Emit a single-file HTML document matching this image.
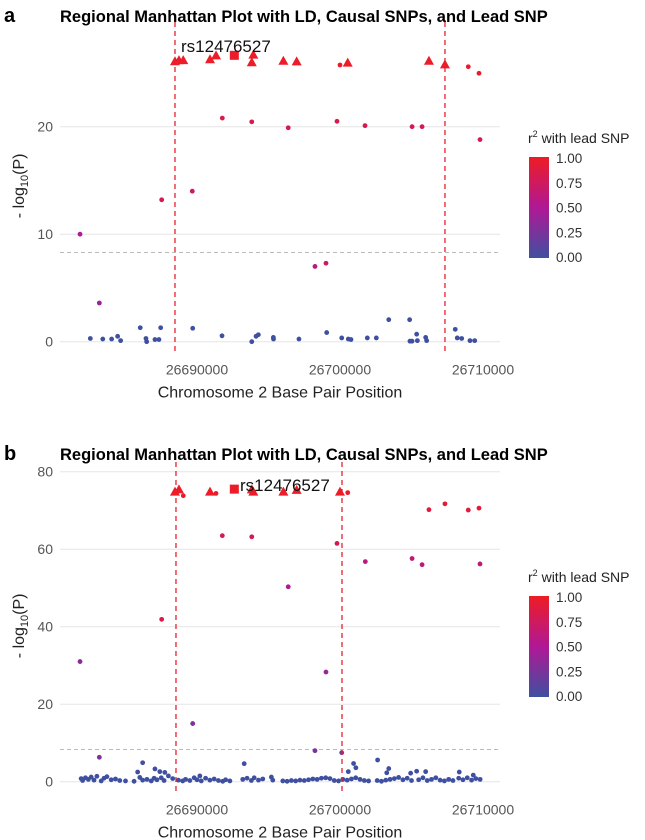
<!DOCTYPE html>
<html><head><meta charset="utf-8">
<style>
body{margin:0;background:#fff;font-family:"Liberation Sans",sans-serif;}
svg{display:block}
</style></head>
<body>
<svg id="fig" width="645" height="840" viewBox="0 0 645 840" xmlns="http://www.w3.org/2000/svg"></svg>
<script>
// ---------- Panel A data (position in kb, -log10 P, r2) ----------
const aCausalPos=[26688.46,26688.74,26689.04,26690.91,26691.33,26693.83,26693.94,26696.04,26696.97,26700.54,26706.22,26707.34];
const aCausalVal=[26.09,26.19,26.19,26.27,26.64,26.0,26.7,26.14,26.08,25.96,26.14,25.80];
const aLeadPos=[26692.61];
const aLeadVal=[26.64];
const aPos=[26700.0,26708.97,26709.72,26691.77,26693.83,26696.38,26699.79,26701.75,26705.04,26705.74,26709.79,26687.53,26689.67,26681.82,26698.25,26699.02,26683.17,
26682.54,26683.41,26684.03,26684.45,26684.66,26686.03,26686.43,26686.48,26687.06,26687.34,26687.46,26689.70,26691.75,26693.83,26694.13,26694.29,26695.34,26695.35,26697.13,26699.07,26700.12,26700.58,26700.77,26701.91,26702.54,26703.41,26704.87,26704.89,26705.04,26705.36,26705.41,26705.99,26706.06,26708.06,26708.20,26708.51,26709.09,26709.42];
const aVal=[25.74,25.58,24.97,20.8,20.45,19.9,20.5,20.1,20.0,20.0,18.8,13.2,14.0,10.0,7.0,7.3,3.6,
0.3,0.25,0.25,0.5,0.1,1.3,0.3,0.0,0.2,0.2,1.3,1.25,0.55,0.0,0.5,0.65,0.4,0.25,0.25,0.85,0.35,0.25,0.2,0.35,0.35,2.05,2.05,0.05,0.05,0.7,0.1,0.4,0.1,1.15,0.35,0.3,0.1,0.1];
const aR2=[0.98,0.95,0.95,0.82,0.82,0.8,0.82,0.8,0.8,0.8,0.8,0.78,0.7,0.5,0.6,0.72,0.4,
0,0,0,0,0,0,0,0,0,0,0,0,0,0,0,0,0,0,0,0,0,0,0,0,0,0,0,0,0,0,0,0,0,0,0,0,0,0];
const aVlines=[26688.46,26707.34];

// ---------- Panel B data ----------
const bCausalPos=[26688.46,26688.74,26690.91,26693.83,26693.94,26696.04,26696.97,26700.0];
const bCausalVal=[74.85,75.45,74.85,75.45,74.85,74.85,75.3,74.85];
const bLeadPos=[26692.61];
const bLeadVal=[75.5];
const bPos=[26689.04,26691.33,26700.54,26706.22,26707.34,26708.97,26709.72,
26691.77,26693.83,26699.79,26701.77,26705.04,26705.74,26709.79,26696.38,26687.53,26681.82,26699.02,26689.70,26698.25,26700.12,26683.17,
26693.30,26700.95,26701.11,26702.63,26686.20,26687.06,26685.85,26687.40,26687.75,26700.58,26703.41,26703.27,26705.36,26705.99,26708.34,26709.32,26690.20,26704.94,
26681.9,26682.0,26682.2,26682.4,26682.6,26682.8,26683.0,26683.3,26683.5,26683.7,26684.0,26684.3,26684.6,26685.0,26685.6,26686.0,26686.2,26686.5,26686.8,26687.0,26687.2,26687.5,26687.7,26688.0,26688.3,26688.7,26689.0,26689.2,26689.5,26689.8,26690.0,26690.3,26690.6,26690.9,26691.2,26691.5,26691.8,26692.0,26692.3,26693.2,26693.5,26693.8,26694.0,26694.3,26694.6,26695.2,26695.3,26696.0,26696.3,26696.6,26696.9,26697.2,26697.5,26697.8,26698.1,26698.4,26698.7,26699.0,26699.3,26699.6,26699.9,26700.2,26700.5,26700.8,26701.1,26701.4,26701.7,26702.0,26702.6,26702.9,26703.2,26703.5,26703.8,26704.1,26704.4,26704.7,26705.0,26705.5,26705.8,26706.1,26706.4,26706.7,26707.0,26707.3,26707.6,26707.9,26708.3,26708.6,26708.9,26709.2,26709.5,26709.8];
const bVal=[73.8,74.4,74.6,70.2,71.7,70.1,70.6,
63.5,63.2,61.5,56.8,57.6,56.0,56.2,50.3,41.9,31.0,28.3,15.0,8.0,7.5,6.3,
4.65,4.7,3.6,5.6,4.9,3.3,2.5,2.6,2.4,2.6,3.4,2.3,2.7,2.6,2.5,1.7,1.5,2.2,
0.8,0.3,1.0,0.6,1.2,0.4,1.4,0.2,0.9,1.3,0.5,0.7,0.3,0.2,0.1,1.1,0.4,0.6,0.2,0.9,0.5,1.0,0.3,1.5,0.8,0.4,0.2,0.6,0.3,1.0,0.5,0.2,0.9,0.4,0.7,0.3,0.1,0.5,0.2,0.6,0.9,0.3,1.0,0.4,0.7,1.2,0.4,0.2,0.1,0.3,0.2,0.4,0.3,0.5,0.7,0.6,0.9,1.0,0.8,0.3,0.2,0.6,0.4,0.7,1.0,0.6,0.3,0.2,0.3,0.1,0.4,0.6,0.8,1.1,0.5,0.9,0.3,0.5,1.0,0.3,0.6,1.0,0.4,0.2,0.6,0.3,0.9,0.5,1.0,0.4,0.8,0.6];
const bR2=[0.97,0.97,0.97,0.9,0.92,0.9,0.92,
0.8,0.78,0.8,0.6,0.65,0.6,0.6,0.5,0.85,0.35,0.4,0.3,0.25,0.2,0.3];
const bVlines=[26688.53,26700.14];

const yTicksA=[0,10,20];
const yTicksB=[0,20,40,60,80];
const xTicks=[26690000,26700000,26710000];
const legendTicks=["1.00","0.75","0.50","0.25","0.00"];

const NS="http://www.w3.org/2000/svg";
const svg=document.getElementById('fig');
function mk(tag,attrs,parent){const e=document.createElementNS(NS,tag);for(const k in attrs)e.setAttribute(k,attrs[k]);(parent||svg).appendChild(e);return e;}
function lerp(a,b,t){return a+(b-a)*t;}
function r2col(r){
  const c0=[63,80,160],c1=[176,24,150],c2=[237,28,36];
  let a,b,t; if(r<0.5){a=c0;b=c1;t=r/0.5;}else{a=c1;b=c2;t=(r-0.5)/0.5;}
  return `rgb(${Math.round(lerp(a[0],b[0],t))},${Math.round(lerp(a[1],b[1],t))},${Math.round(lerp(a[2],b[2],t))})`;
}

function panel(o){
  const xS=kb=>197+(kb-26690)*14.3;
  const yS=v=>o.y0-v*o.k;
  const g=mk('g',{});
  
  
  let t=mk('text',{x:4,y:o.titleY,'font-size':20,'font-weight':'bold',fill:'#000'},g);t.textContent=o.letter;
  
  t=mk('text',{x:60,y:o.titleY,'font-size':16.5,'font-weight':'bold',fill:'#000'},g);
  t.textContent='Regional Manhattan Plot with LD, Causal SNPs, and Lead SNP';
  
  o.yTicks.forEach(v=>{
    const l=mk('line',{x1:60,x2:500,y1:yS(v),y2:yS(v),stroke:'#e6e6e6','stroke-width':1},g);
    
    const tx=mk('text',{x:53,y:yS(v)+5,'font-size':14,fill:'#555','text-anchor':'end'},g);tx.textContent=v;
    
  });
  const th=mk('line',{x1:60,x2:500,y1:yS(8.3),y2:yS(8.3),stroke:'#bbb','stroke-width':1,'stroke-dasharray':'4,3'},g);
  
  xTicks.forEach(v=>{
    const tx=mk('text',{x:xS(v/1000),y:o.y0+33,'font-size':14,fill:'#555','text-anchor':'middle'},g);tx.textContent=v;
    
  });
  t=mk('text',{x:280,y:o.y0+56,'font-size':16,fill:'#222','text-anchor':'middle'},g);t.textContent='Chromosome 2 Base Pair Position';
  
  const cy=(o.y0+o.topY)/2;
  t=mk('text',{transform:`translate(24,${cy}) rotate(-90)`,'font-size':16,fill:'#222','text-anchor':'middle'},g);
  t.innerHTML='- log<tspan font-size="11" dy="4">10</tspan><tspan dy="-4">(P)</tspan>';
  
  o.pos.forEach((p,i)=>{
    const r=i<o.r2.length?o.r2[i]:0;
    const c=mk('circle',{cx:xS(p),cy:yS(o.val[i]),r:2.4,fill:r2col(r)},g);
    
  });
  o.vlines.forEach(v=>{
    const l=mk('line',{x1:xS(v),x2:xS(v),y1:o.topY-8,y2:o.y0+10,stroke:'#e8202e','stroke-width':1.3,'stroke-dasharray':'5,4'},g);
    
  });
  o.cPos.forEach((p,i)=>{
    const x=xS(p),y=yS(o.cVal[i]);
    const tr=mk('polygon',{points:`${x},${y-5} ${x-5},${y+4} ${x+5},${y+4}`,fill:'#ec1c28'},g);
    
  });
  o.lPos.forEach((p,i)=>{
    const x=xS(p),y=yS(o.lVal[i]);
    const sq=mk('rect',{x:x-4.5,y:y-4.5,width:9,height:9,fill:'#ec1c28'},g);
    
  });
  t=mk('text',{x:o.labX,y:o.labY,'font-size':17,fill:'#111'},g);t.textContent='rs12476527';
  
  const lt=mk('text',{x:528,y:o.legY,'font-size':14,fill:'#222'},g);
  lt.innerHTML='r<tspan font-size="9" dy="-6">2</tspan><tspan dy="6"> with lead SNP</tspan>';
  
  const gid='grad'+o.letter;
  const defs=mk('defs',{},g);
  const lg=mk('linearGradient',{id:gid,x1:0,y1:1,x2:0,y2:0},defs);
  [0,0.25,0.5,0.75,1].forEach(s=>mk('stop',{offset:s,'stop-color':r2col(s)},lg));
  const bar=mk('rect',{x:529,y:o.legY+14,width:20,height:101,fill:`url(#${gid})`},g);
  
  legendTicks.forEach((s,i)=>{
    const yy=o.legY+15+i*24.75;
    const tx=mk('text',{x:556,y:yy+5,'font-size':13.5,fill:'#333'},g);tx.textContent=s;
    
  });
}

panel({name:'panel-a',letter:'a',titleY:22,y0:341.7,k:10.75,topY:30,yTicks:yTicksA,
  pos:aPos,val:aVal,r2:aR2,cPos:aCausalPos,cVal:aCausalVal,lPos:aLeadPos,lVal:aLeadVal,vlines:aVlines,
  labX:181,labY:52,legY:143});
panel({name:'panel-b',letter:'b',titleY:460,y0:781.7,k:3.875,topY:470,yTicks:yTicksB,
  pos:bPos,val:bVal,r2:bR2,cPos:bCausalPos,cVal:bCausalVal,lPos:bLeadPos,lVal:bLeadVal,vlines:bVlines,
  labX:240,labY:491,legY:582});
</script>
</body></html>
